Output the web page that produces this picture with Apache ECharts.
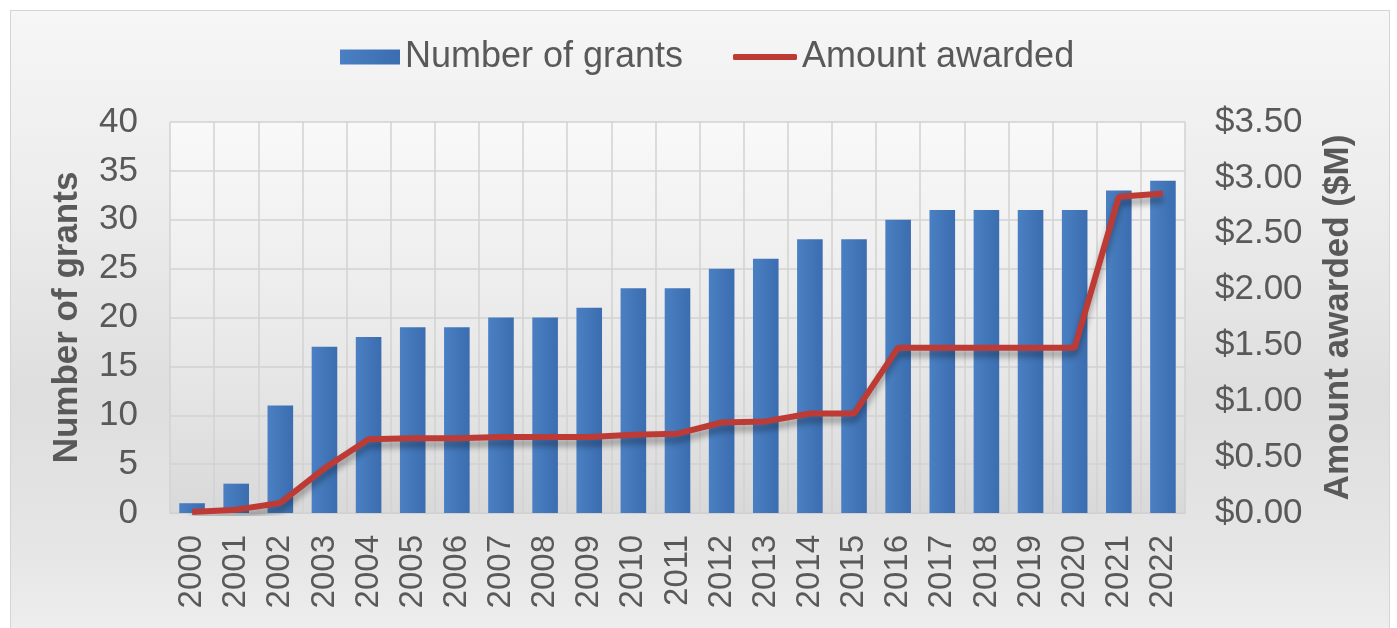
<!DOCTYPE html>
<html>
<head>
<meta charset="utf-8">
<script src="https://cdn.jsdelivr.net/npm/echarts@6/dist/echarts.min.js"></script>
<style>
html,body{margin:0;padding:0;width:1397px;height:628px;overflow:hidden;background:#fff;}
#frame{position:absolute;left:10px;top:10px;width:1378px;height:640px;border:1px solid #d4d4d4;
background:linear-gradient(to bottom,#f6f6f6 0%,#ececec 30%,#dedede 60%,#e6e6e6 85%,#f0f0f0 100%);}
#chart{position:absolute;left:0;top:0;width:1397px;height:628px;}
</style>
</head>
<body>
<div id="frame"></div>
<div id="chart"></div>
<script>
const years = ['2000','2001','2002','2003','2004','2005','2006','2007','2008','2009','2010','2011','2012','2013','2014','2015','2016','2017','2018','2019','2020','2021','2022'];
const grants = [1,3,11,17,18,19,19,20,20,21,23,23,25,26,28,28,30,31,31,31,31,33,34];
const amount = [0.01,0.03,0.09,0.40,0.66,0.67,0.67,0.68,0.68,0.68,0.70,0.71,0.81,0.82,0.89,0.89,1.48,1.48,1.48,1.48,1.48,2.83,2.86];
const leftTicks = [0,5,10,15,20,25,30,35,40];
const rightTicks = ['$0.00','$0.50','$1.00','$1.50','$2.00','$2.50','$3.00','$3.50'];

const txt = '#595959';
const font = 'Liberation Sans, Arial, sans-serif';
const chart = echarts.init(document.getElementById('chart'));
chart.setOption({
  animation:false,
  textStyle:{fontFamily:font},
  legend:[
    {top:39, left:340, padding:0, itemWidth:60, itemHeight:15,
     textStyle:{fontSize:36, color:txt, fontFamily:font},
     data:[{name:'Number of grants', icon:'rect'}]},
    {top:39, left:733, padding:0, itemWidth:64, itemHeight:6,
     textStyle:{fontSize:36, color:txt, fontFamily:font},
     data:[{name:'Amount awarded', icon:'roundRect', itemStyle:{color:'#be3b35'}}]}
  ],
  grid:{left:170, right:212, top:122, bottom:115,
    show:true, borderWidth:0,
    backgroundColor:new echarts.graphic.LinearGradient(0,0,0,1,[
      {offset:0,color:'#f9f9f9'},{offset:0.6,color:'#e8e8e8'},{offset:1,color:'#d9d9d9'}])},
  xAxis:{
    type:'category', data:years,
    axisLine:{show:true, lineStyle:{color:'#d0d0d0'}},
    axisTick:{show:false},
    splitLine:{show:true, lineStyle:{color:'#d2d2d2', width:1.5}},
    axisLabel:{rotate:90, fontSize:33, color:txt, margin:22, fontFamily:font, interval:0}
  },
  yAxis:[
    {type:'value', min:0, max:40, interval:5,
     name:'Number of grants', nameLocation:'middle', nameGap:85,
     nameTextStyle:{fontSize:35, fontWeight:'bold', color:txt, fontFamily:font},
     axisLine:{show:false}, axisTick:{show:false},
     splitLine:{lineStyle:{color:'#d2d2d2', width:1.5}},
     axisLabel:{fontSize:35, color:txt, margin:32, fontFamily:font,
       formatter:v=>String(leftTicks[Math.round(v/5)])}
    },
    {type:'value', min:0, max:3.5, interval:0.5,
     name:'Amount awarded ($M)', nameLocation:'middle', nameGap:136, nameRotate:90,
     nameTextStyle:{fontSize:35, fontWeight:'bold', color:txt, fontFamily:font},
     axisLine:{show:false}, axisTick:{show:false}, splitLine:{show:false},
     axisLabel:{fontSize:35, color:txt, margin:30, fontFamily:font,
       formatter:v=>rightTicks[Math.round(v/0.5)]}
    }
  ],
  series:[
    {name:'Number of grants', type:'bar', data:grants, yAxisIndex:0, barWidth:'58%',
     itemStyle:{color:new echarts.graphic.LinearGradient(0,0,1,0,[
       {offset:0,color:'#4a80c3'},{offset:1,color:'#3b6db0'}])}},
    {name:'Amount awarded', type:'line', data:amount, yAxisIndex:1, symbol:'none',
     lineStyle:{color:'#be3b35', width:6, shadowColor:'rgba(0,0,0,0.35)', shadowBlur:6, shadowOffsetY:6},
     itemStyle:{color:'#be3b35'}}
  ]
});
</script>
</body>
</html>
